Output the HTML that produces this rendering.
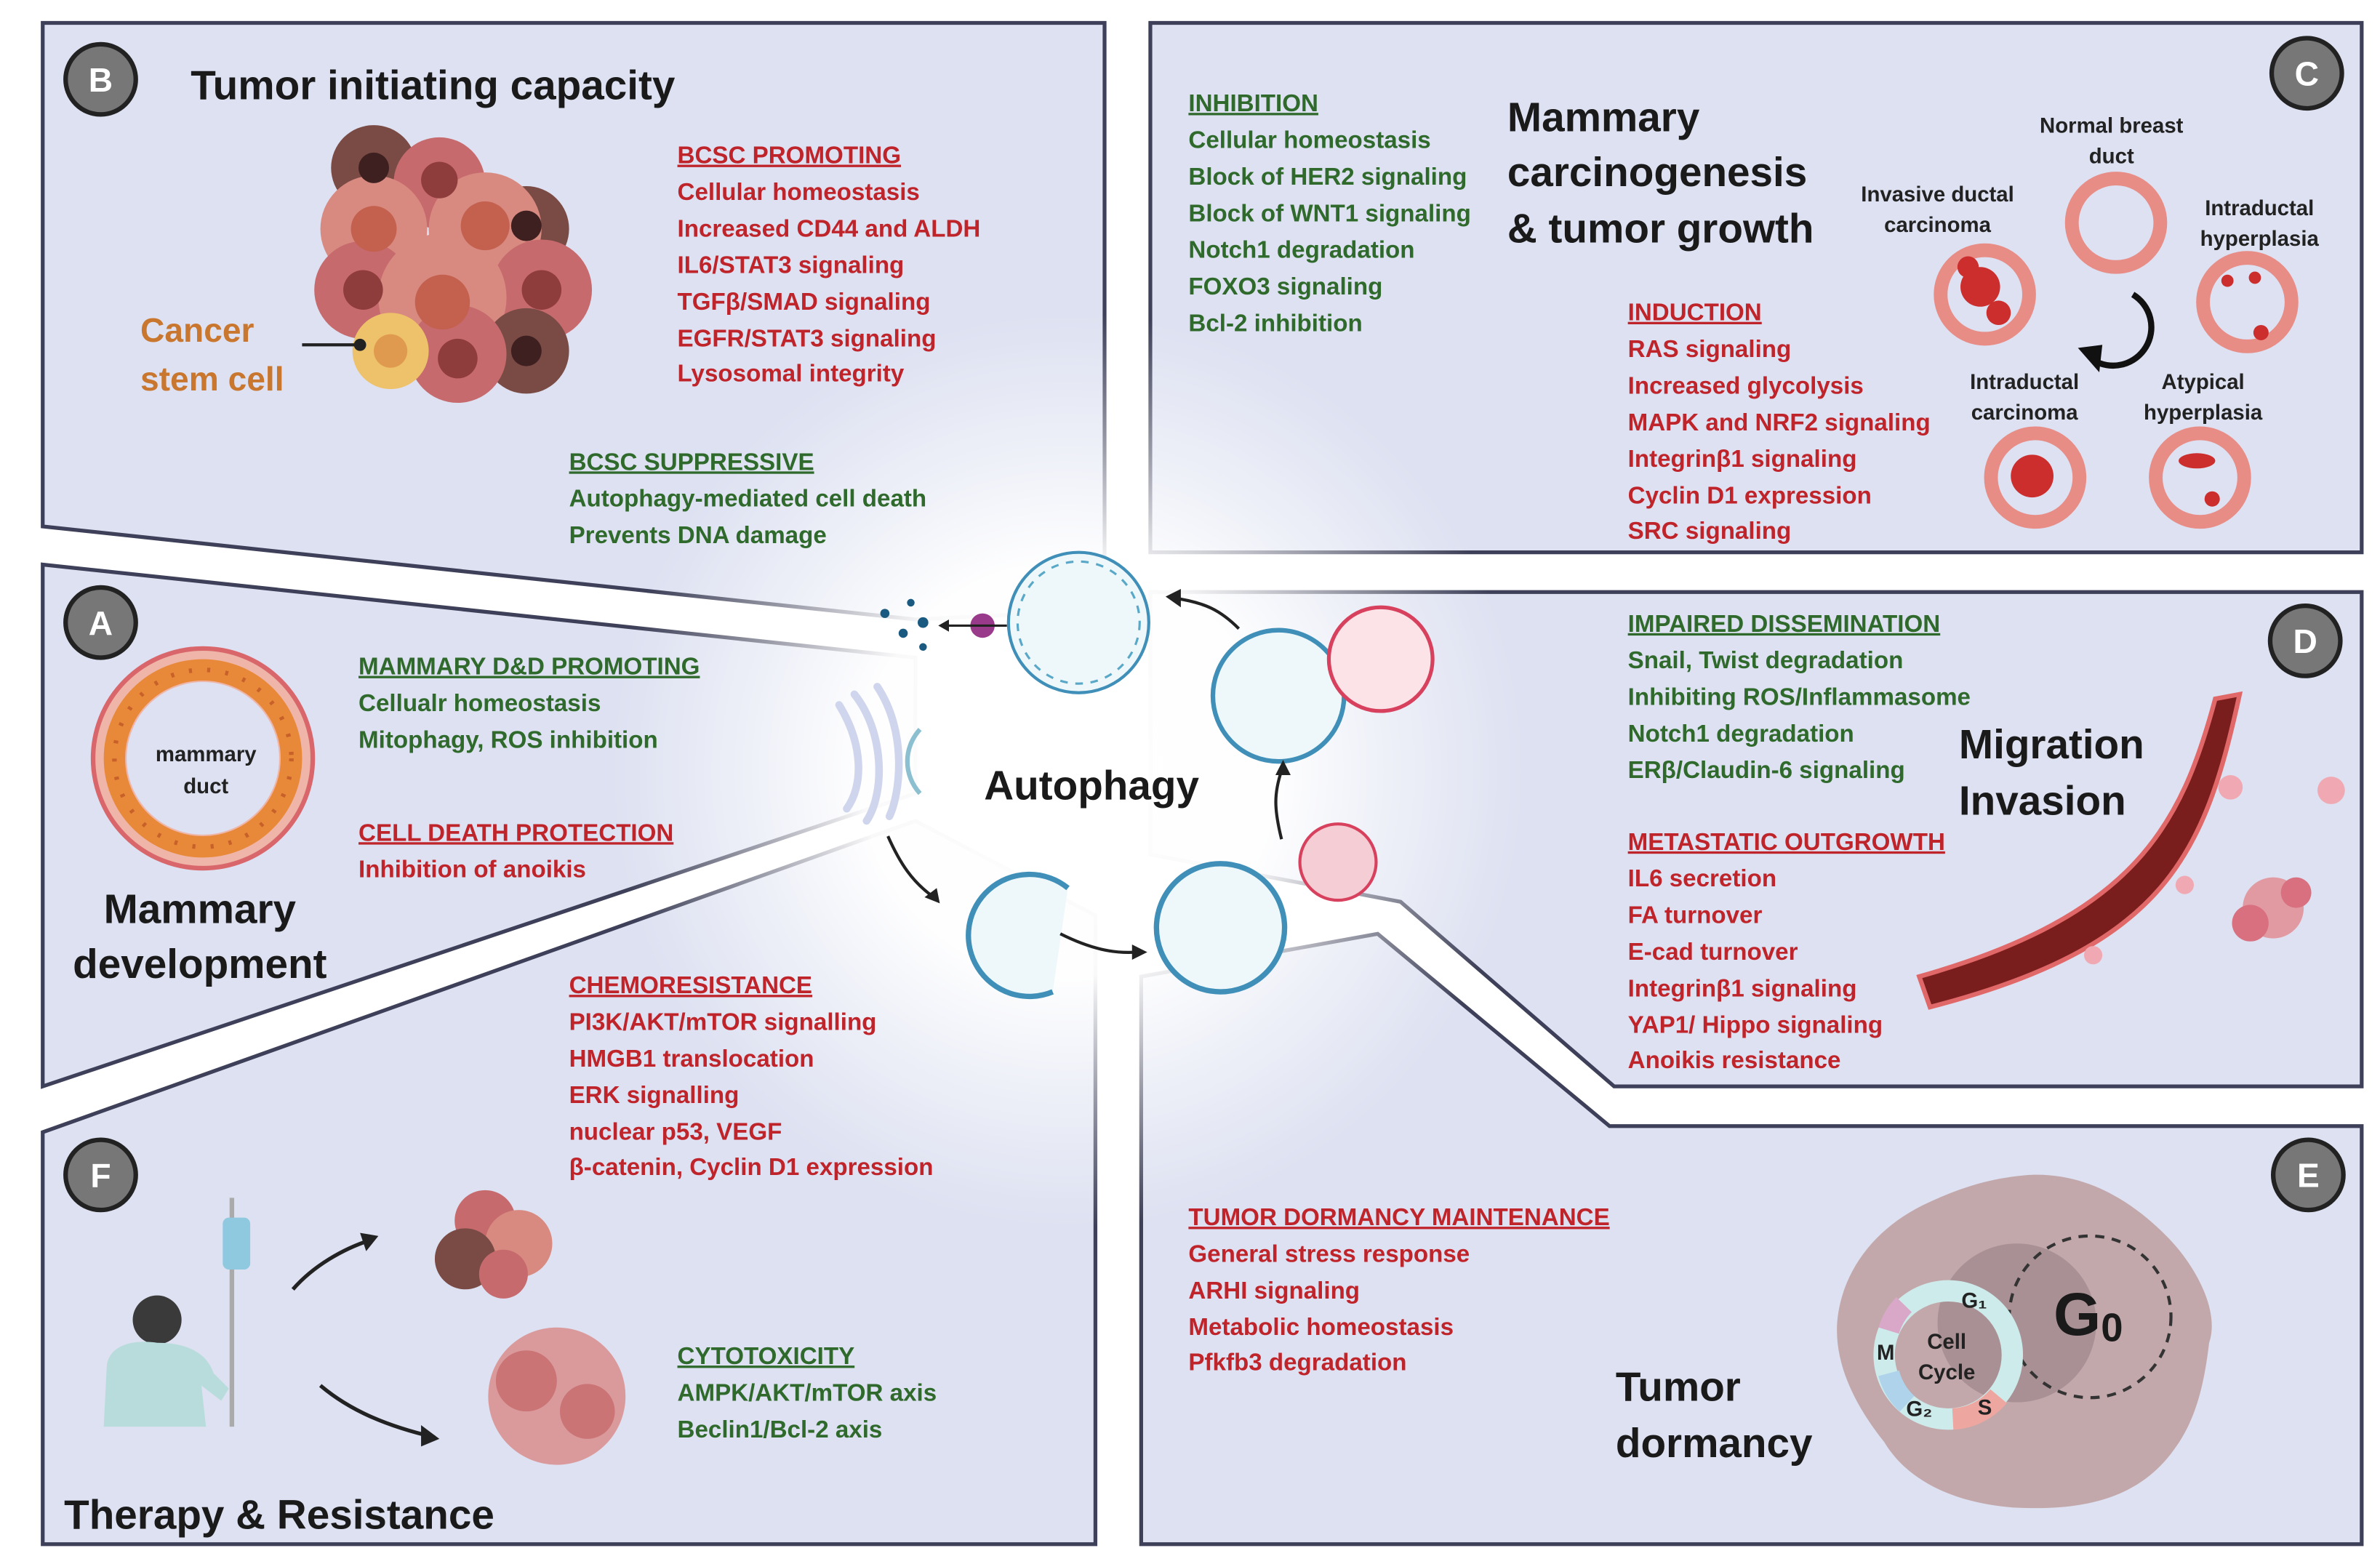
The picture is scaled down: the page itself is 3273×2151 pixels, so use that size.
<!DOCTYPE html>
<html><head><meta charset="utf-8"><style>
html,body{margin:0;padding:0;background:#fff}
svg{display:block}
text{font-family:"Liberation Sans",sans-serif}
.r{fill:#c0242b;font-size:15.8px;font-weight:bold}
.g{fill:#2f6a2c;font-size:15.8px;font-weight:bold}
.t{fill:#1a1a1a;font-size:27px;font-weight:bold}
.s{fill:#222;font-size:14px;font-weight:bold;text-anchor:middle}
.u{text-decoration:underline}
.lt{fill:#fff;font-size:22px;font-weight:bold;text-anchor:middle}
</style></head><body>
<svg width="3273" height="2151" viewBox="0 0 1560 1025" preserveAspectRatio="none" xmlns="http://www.w3.org/2000/svg">
<defs>
<radialGradient id="glow" cx="700" cy="505" r="300" gradientUnits="userSpaceOnUse">
<stop offset="0" stop-color="#fff" stop-opacity="1"/>
<stop offset="0.45" stop-color="#fff" stop-opacity="0.97"/>
<stop offset="0.7" stop-color="#fff" stop-opacity="0.5"/>
<stop offset="1" stop-color="#fff" stop-opacity="0"/>
</radialGradient>
</defs>
<rect width="1560" height="1025" fill="#fff"/>
<g fill="#dde1f1" stroke="#3d4058" stroke-width="2.5" stroke-linejoin="miter">
<polygon points="28,15 724,15 724,400 600,406 28,345"/>
<polygon points="28,370 600,431 600,520 28,712"/>
<polygon points="28,742 600,538 718,600 718,1012 28,1012"/>
<polygon points="754,15 1548,15 1548,362 754,362"/>
<polygon points="754,388 1548,388 1548,712 1058,712 918,591 754,560"/>
<polygon points="748,640 903,612 1055,738 1548,738 1548,1012 748,1012"/>
</g>
<circle cx="700" cy="505" r="300" fill="url(#glow)"/>

<!-- B -->
<circle cx="66" cy="52" r="23" fill="#777" stroke="#222" stroke-width="3"/><text x="66" y="60" class="lt">B</text>
<text x="125" y="65" class="t">Tumor initiating capacity</text>
<g>
<circle cx="245" cy="110" r="28" fill="#7a4a44"/><circle cx="288" cy="120" r="30" fill="#c76a6e"/>
<circle cx="345" cy="150" r="28" fill="#7a4a44"/><circle cx="245" cy="150" r="35" fill="#d88a80"/>
<circle cx="318" cy="150" r="37" fill="#d88a80"/><circle cx="238" cy="190" r="32" fill="#c76a6e"/>
<circle cx="355" cy="190" r="33" fill="#c76a6e"/><circle cx="290" cy="195" r="42" fill="#d88a80"/>
<circle cx="345" cy="230" r="28" fill="#7a4a44"/><circle cx="300" cy="232" r="32" fill="#c76a6e"/>
<circle cx="256" cy="230" r="25" fill="#eec26a"/><circle cx="256" cy="230" r="11" fill="#e09a50"/>
<circle cx="245" cy="150" r="15" fill="#c3604e"/><circle cx="318" cy="148" r="16" fill="#c3604e"/>
<circle cx="290" cy="198" r="18" fill="#c3604e"/><circle cx="355" cy="190" r="13" fill="#8f3c3c"/>
<circle cx="238" cy="190" r="13" fill="#8f3c3c"/><circle cx="300" cy="235" r="13" fill="#8f3c3c"/>
<circle cx="288" cy="118" r="12" fill="#8f3c3c"/><circle cx="245" cy="110" r="10" fill="#3e2020"/>
<circle cx="345" cy="230" r="10" fill="#3e2020"/><circle cx="345" cy="148" r="10" fill="#3e2020"/>
<line x1="198" y1="226" x2="236" y2="226" stroke="#222" stroke-width="2"/><circle cx="236" cy="226" r="4" fill="#222"/>
</g>
<text x="92" y="224" fill="#c9772f" font-size="22" font-weight="bold">Cancer</text>
<text x="92" y="256" fill="#c9772f" font-size="22" font-weight="bold">stem cell</text>
<text x="444" y="107" class="r u">BCSC PROMOTING</text>
<text x="444" y="131" class="r">Cellular homeostasis</text>
<text x="444" y="155" class="r">Increased CD44 and ALDH</text>
<text x="444" y="179" class="r">IL6/STAT3 signaling</text>
<text x="444" y="203" class="r">TGFβ/SMAD signaling</text>
<text x="444" y="227" class="r">EGFR/STAT3 signaling</text>
<text x="444" y="250" class="r">Lysosomal integrity</text>
<text x="373" y="308" class="g u">BCSC SUPPRESSIVE</text>
<text x="373" y="332" class="g">Autophagy-mediated cell death</text>
<text x="373" y="356" class="g">Prevents DNA damage</text>

<!-- C -->
<circle cx="1512" cy="48" r="23" fill="#777" stroke="#222" stroke-width="3"/><text x="1512" y="56" class="lt">C</text>
<text x="779" y="73" class="g u">INHIBITION</text>
<text x="779" y="97" class="g">Cellular homeostasis</text>
<text x="779" y="121" class="g">Block of HER2 signaling</text>
<text x="779" y="145" class="g">Block of WNT1 signaling</text>
<text x="779" y="169" class="g">Notch1 degradation</text>
<text x="779" y="193" class="g">FOXO3 signaling</text>
<text x="779" y="217" class="g">Bcl-2 inhibition</text>
<text x="988" y="86" class="t" font-size="28">Mammary</text>
<text x="988" y="122" class="t" font-size="28">carcinogenesis</text>
<text x="988" y="159" class="t" font-size="28">&amp; tumor growth</text>
<text x="1067" y="210" class="r u">INDUCTION</text>
<text x="1067" y="234" class="r">RAS signaling</text>
<text x="1067" y="258" class="r">Increased glycolysis</text>
<text x="1067" y="282" class="r">MAPK and NRF2 signaling</text>
<text x="1067" y="306" class="r">Integrinβ1 signaling</text>
<text x="1067" y="330" class="r">Cyclin D1 expression</text>
<text x="1067" y="353" class="r">SRC signaling</text>
<g stroke="#e88c86" stroke-width="9" fill="none">
<circle cx="1387" cy="146" r="29"/><circle cx="1301" cy="193" r="29"/><circle cx="1473" cy="198" r="29"/>
<circle cx="1334" cy="313" r="29"/><circle cx="1442" cy="313" r="29"/></g>
<g fill="#cc2e2e"><circle cx="1298" cy="188" r="13"/><circle cx="1290" cy="175" r="7"/><circle cx="1310" cy="205" r="8"/>
<circle cx="1332" cy="312" r="14"/><circle cx="1460" cy="184" r="4"/><circle cx="1478" cy="182" r="4"/><circle cx="1482" cy="218" r="5"/>
<ellipse cx="1440" cy="302" rx="12" ry="5"/><circle cx="1450" cy="327" r="5"/></g>
<path d="M1398,193 A24,24 0 1 1 1372,236" stroke="#111" stroke-width="4" fill="none"/>
<polygon points="1362,228 1376,244 1378,226" fill="#111"/>
<text x="1384" y="87" class="s">Normal breast</text><text x="1384" y="107" class="s">duct</text>
<text x="1270" y="132" class="s">Invasive ductal</text><text x="1270" y="152" class="s">carcinoma</text>
<text x="1481" y="141" class="s">Intraductal</text><text x="1481" y="161" class="s">hyperplasia</text>
<text x="1327" y="255" class="s">Intraductal</text><text x="1327" y="275" class="s">carcinoma</text>
<text x="1444" y="255" class="s">Atypical</text><text x="1444" y="275" class="s">hyperplasia</text>

<!-- A -->
<circle cx="66" cy="408" r="23" fill="#777" stroke="#222" stroke-width="3"/><text x="66" y="416" class="lt">A</text>
<circle cx="133" cy="497" r="72" fill="#eeb5a8" stroke="#d9666a" stroke-width="3"/>
<circle cx="133" cy="497" r="58" fill="none" stroke="#e8893a" stroke-width="14"/>
<circle cx="133" cy="497" r="58" fill="none" stroke="#c8602a" stroke-width="3" stroke-dasharray="2 10"/>
<circle cx="133" cy="497" r="50" fill="#dde1f1"/>
<text x="135" y="499" class="s" font-size="15">mammary</text><text x="135" y="520" class="s" font-size="15">duct</text>
<text x="131" y="605" class="t" text-anchor="middle" font-size="27">Mammary</text>
<text x="131" y="641" class="t" text-anchor="middle" font-size="27">development</text>
<text x="235" y="442" class="g u">MAMMARY D&amp;D PROMOTING</text>
<text x="235" y="466" class="g">Cellualr homeostasis</text>
<text x="235" y="490" class="g">Mitophagy, ROS inhibition</text>
<text x="235" y="551" class="r u">CELL DEATH PROTECTION</text>
<text x="235" y="575" class="r">Inhibition of anoikis</text>

<!-- D -->
<circle cx="1511" cy="420" r="23" fill="#777" stroke="#222" stroke-width="3"/><text x="1511" y="428" class="lt">D</text>
<text x="1067" y="414" class="g u">IMPAIRED DISSEMINATION</text>
<text x="1067" y="438" class="g">Snail, Twist degradation</text>
<text x="1067" y="462" class="g">Inhibiting ROS/Inflammasome</text>
<text x="1067" y="486" class="g">Notch1 degradation</text>
<text x="1067" y="510" class="g">ERβ/Claudin-6 signaling</text>
<text x="1284" y="497" class="t" font-size="27">Migration</text>
<text x="1284" y="534" class="t" font-size="27">Invasion</text>
<text x="1067" y="557" class="r u">METASTATIC OUTGROWTH</text>
<text x="1067" y="581" class="r">IL6 secretion</text>
<text x="1067" y="605" class="r">FA turnover</text>
<text x="1067" y="629" class="r">E-cad turnover</text>
<text x="1067" y="653" class="r">Integrinβ1 signaling</text>
<text x="1067" y="677" class="r">YAP1/ Hippo signaling</text>
<text x="1067" y="700" class="r">Anoikis resistance</text>
<path d="M1452,458 L1468,455 C1445,560 1420,620 1265,660 L1258,640 C1400,600 1430,540 1452,458Z" fill="#7a1d1d" stroke="#e06868" stroke-width="3"/>
<circle cx="1490" cy="595" r="20" fill="#e29aa2"/><circle cx="1475" cy="605" r="12" fill="#d87080"/><circle cx="1505" cy="585" r="10" fill="#d87080"/>
<circle cx="1528" cy="518" r="9" fill="#f0a9b2"/><circle cx="1462" cy="516" r="8" fill="#f0a9b2"/>
<circle cx="1432" cy="580" r="6" fill="#f0a9b2"/><circle cx="1372" cy="626" r="6" fill="#f0a9b2"/>

<!-- E -->
<circle cx="1513" cy="770" r="23" fill="#777" stroke="#222" stroke-width="3"/><text x="1513" y="778" class="lt">E</text>
<text x="779" y="803" class="r u">TUMOR DORMANCY MAINTENANCE</text>
<text x="779" y="827" class="r">General stress response</text>
<text x="779" y="851" class="r">ARHI signaling</text>
<text x="779" y="875" class="r">Metabolic homeostasis</text>
<text x="779" y="898" class="r">Pfkfb3 degradation</text>
<text x="1059" y="918" class="t" font-size="27">Tumor</text>
<text x="1059" y="955" class="t" font-size="27">dormancy</text>
<path d="M1330,770 C1370,768 1400,790 1420,810 C1440,830 1455,860 1448,880 C1445,905 1440,930 1425,950 C1400,985 1360,990 1320,988 C1280,985 1250,970 1235,945 C1215,920 1200,890 1205,860 C1210,830 1230,805 1260,790 C1285,778 1305,772 1330,770Z" fill="#c2a8ab"/>
<circle cx="1322" cy="867" r="52" fill="#a99094"/>
<circle cx="1370" cy="863" r="53" fill="none" stroke="#333" stroke-width="2" stroke-dasharray="6 5"/>
<circle cx="1277" cy="888" r="42" fill="none" stroke="#cdebea" stroke-width="14"/>
<path d="M1238,872 A42,42 0 0 1 1248,855" stroke="#d9a8c8" stroke-width="14" fill="none"/>
<path d="M1250,920 A42,42 0 0 1 1238,900" stroke="#afd3ea" stroke-width="14" fill="none"/>
<path d="M1310,915 A42,42 0 0 1 1280,930" stroke="#eea6a0" stroke-width="14" fill="none"/>
<text x="1276" y="884" class="s" font-size="14">Cell</text><text x="1276" y="904" class="s" font-size="14">Cycle</text>
<text x="1294" y="857" class="s" font-size="12">G₁</text><text x="1236" y="891" class="s" font-size="13">M</text>
<text x="1258" y="928" class="s" font-size="12">G₂</text><text x="1301" y="927" class="s" font-size="13">S</text>
<text x="1346" y="875" fill="#1a1a1a" font-size="40" font-weight="bold">G<tspan font-size="26" dy="4">0</tspan></text>

<!-- F -->
<circle cx="66" cy="770" r="23" fill="#777" stroke="#222" stroke-width="3"/><text x="66" y="778" class="lt">F</text>
<text x="373" y="651" class="r u">CHEMORESISTANCE</text>
<text x="373" y="675" class="r">PI3K/AKT/mTOR signalling</text>
<text x="373" y="699" class="r">HMGB1 translocation</text>
<text x="373" y="723" class="r">ERK signalling</text>
<text x="373" y="747" class="r">nuclear p53, VEGF</text>
<text x="373" y="770" class="r">β-catenin, Cyclin D1 expression</text>
<text x="444" y="894" class="g u">CYTOTOXICITY</text>
<text x="444" y="918" class="g">AMPK/AKT/mTOR axis</text>
<text x="444" y="942" class="g">Beclin1/Bcl-2 axis</text>
<text x="42" y="1002" class="t" font-size="27">Therapy &amp; Resistance</text>
<line x1="152" y1="785" x2="152" y2="935" stroke="#aaa" stroke-width="3"/>
<rect x="146" y="798" width="18" height="34" rx="4" fill="#8fc9e0"/>
<circle cx="103" cy="865" r="16" fill="#3a3a3a"/>
<path d="M68,935 L70,895 C72,880 90,878 103,880 C120,880 135,885 140,900 L150,910 L145,918 L132,908 L135,935Z" fill="#b8dcdc"/>
<path d="M192,845 C205,830 225,818 245,812" stroke="#222" stroke-width="2.5" fill="none"/><polygon points="248,810 236,808 240,820" fill="#222"/>
<path d="M210,908 C230,925 255,935 285,942" stroke="#222" stroke-width="2.5" fill="none"/><polygon points="288,943 276,934 276,948" fill="#222"/>
<circle cx="318" cy="800" r="20" fill="#c76a6e"/><circle cx="340" cy="815" r="22" fill="#d88a80"/><circle cx="305" cy="825" r="20" fill="#7a4a44"/><circle cx="330" cy="835" r="16" fill="#c76a6e"/>
<circle cx="365" cy="915" r="45" fill="#d98d8d" opacity="0.85"/><circle cx="345" cy="905" r="20" fill="#c25c5c" opacity="0.6"/><circle cx="385" cy="925" r="18" fill="#c25c5c" opacity="0.6"/>

<!-- center autophagy -->
<text x="645" y="524" class="t" font-size="27">Autophagy</text>
<circle cx="707" cy="408" r="46" fill="#eef8fb" stroke="#3f8fb8" stroke-width="2"/>
<circle cx="707" cy="408" r="40" fill="none" stroke="#5aa8c8" stroke-width="1.5" stroke-dasharray="5 5"/>
<circle cx="644" cy="410" r="8" fill="#9a3a8a"/>
<line x1="660" y1="410" x2="620" y2="410" stroke="#222" stroke-width="1.5"/><polygon points="615,410 622,406 622,414" fill="#222"/>
<g fill="#1a5a80"><circle cx="580" cy="402" r="3"/><circle cx="597" cy="395" r="2.5"/><circle cx="605" cy="408" r="3.5"/><circle cx="592" cy="415" r="3"/><circle cx="605" cy="424" r="2.5"/></g>
<circle cx="838" cy="456" r="43" fill="#eef8fb" stroke="#3f8fb8" stroke-width="3"/>
<circle cx="905" cy="432" r="34" fill="#fbe3e8" stroke="#d8415e" stroke-width="2.5"/>
<circle cx="877" cy="565" r="25" fill="#f5cdd4" stroke="#d8415e" stroke-width="2"/>
<circle cx="800" cy="608" r="42" fill="#eef8fb" stroke="#3f8fb8" stroke-width="3.5"/>
<path d="M700,582 A40,40 0 1 0 690,650" fill="#eef8fb" stroke="#3f8fb8" stroke-width="3.5"/>
<g fill="none" stroke="#cfd5ec" stroke-width="5" stroke-linecap="round">
<path d="M560,455 C580,480 580,520 568,538"/><path d="M550,462 C566,488 566,515 555,530"/><path d="M575,450 C595,480 590,520 583,535"/></g>
<path d="M603,478 C592,490 592,508 603,520" fill="none" stroke="#8cc0d0" stroke-width="3"/>
<g stroke="#222" stroke-width="2" fill="none">
<path d="M812,412 C800,400 790,395 770,392"/><path d="M582,548 C590,566 598,578 612,588"/>
<path d="M695,612 C715,622 730,625 745,624"/><path d="M840,550 C835,530 835,520 840,505"/></g>
<g fill="#222"><polygon points="764,391 774,386 774,398"/><polygon points="616,592 606,588 614,582"/><polygon points="752,624 742,619 742,629"/><polygon points="841,498 836,508 846,508"/></g>
</svg>
</body></html>
